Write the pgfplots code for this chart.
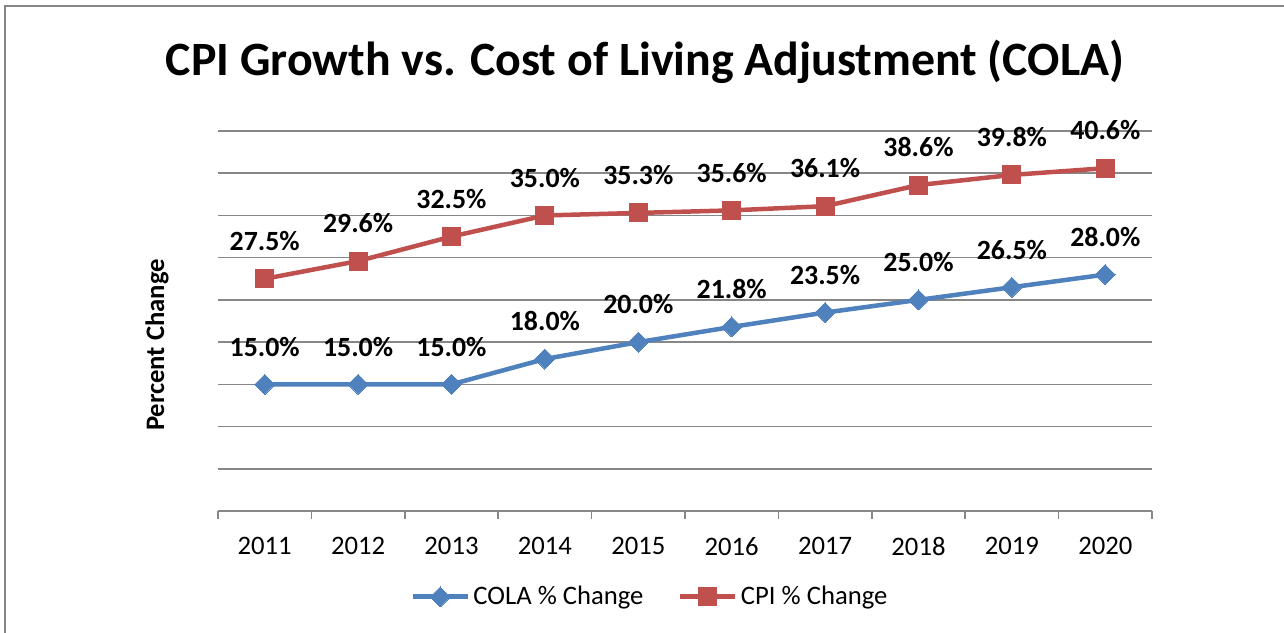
\documentclass[border=0pt]{standalone}
\usepackage{fontspec}
\setmainfont{Carlito}
\usepackage{pgfplots}
\pgfplotsset{compat=1.18}
\definecolor{colablue}{HTML}{4F81BD}
\definecolor{cpired}{HTML}{C0504D}
\definecolor{gridgray}{HTML}{878787}
\begin{document}
\begin{tikzpicture}
\path[use as bounding box] (0,0) rectangle (770.4pt,-379.8pt);
\draw[gridgray, line width=1.2pt] (3.2pt,-381pt) -- (3.2pt,-3.8pt) -- (772pt,-3.8pt);
\node[font=\fontsize{28.7}{34}\selectfont\bfseries] at (645*0.6pt,-62*0.6pt) {CPI Growth vs. Cost of Living Adjustment (COLA)};
\node[rotate=90, font=\fontsize{16}{19}\selectfont\bfseries] at (157*0.6pt,-345*0.6pt) {Percent Change};
\begin{axis}[
  at={(218*0.6pt,-511*0.6pt)}, anchor=south west,
  scale only axis, width=560.4pt, height=228pt,
  clip=false,
  xmin=-0.5, xmax=9.5, ymin=0, ymax=45,
  xtick={0,...,9}, xticklabels={2011,2012,2013,2014,2015,2016,2017,2018,2019,2020},
  minor xtick={-0.5,0.5,...,9.5},
  ytick={0,5,...,45}, yticklabels={},
  ymajorgrids, grid style={gridgray, line width=0.9pt},
  axis x line*=bottom, axis y line*=left,
  y axis line style={draw=none},
  x axis line style={gridgray, line width=0.9pt, -},
  xtick pos=lower,
  major tick length=0pt, minor tick length=4.8pt, tick align=outside,
  minor tick style={gridgray, line width=0.9pt},
  xticklabel style={font=\fontsize{16}{19}\selectfont, inner sep=0pt, anchor=north, yshift=-15.6pt},
  nodes near coords={\pgfmathprintnumber[fixed,fixed zerofill,precision=1,assume math mode=true]{\pgfplotspointmeta}\%},
  nodes near coords style={font=\fontsize{16.7}{20}\selectfont\bfseries, inner sep=0pt, anchor=south, yshift=16.8pt, text=black},
  legend columns=2,
  legend style={draw=none, at={(0.463,-0.226)}, anchor=center,
    font=\fontsize{16}{19}\selectfont,
    /tikz/every even column/.append style={column sep=18.5pt}},
  legend image code/.code={\draw[mark repeat=2, mark phase=2, #1, line width=3pt] plot coordinates {(0pt,0pt) (16.5pt,0pt) (33pt,0pt)};},
]
\addplot[colablue, line width=2.7pt, mark=square*, mark size=4.24pt, mark options={solid, rotate=45, fill=colablue, line width=0pt}]
  coordinates {(0,15.0) (1,15.0) (2,15.0) (3,18.0) (4,20.0) (5,21.8) (6,23.5) (7,25.0) (8,26.5) (9,28.0)};
\addlegendentry{COLA \% Change}
\addplot[cpired, line width=2.7pt, mark=square*, mark size=5.4pt, mark options={solid, fill=cpired, line width=0pt}]
  coordinates {(0,27.5) (1,29.6) (2,32.5) (3,35.0) (4,35.3) (5,35.6) (6,36.1) (7,38.6) (8,39.8) (9,40.6)};
\addlegendentry{CPI \% Change}
\end{axis}
\end{tikzpicture}
\end{document}
